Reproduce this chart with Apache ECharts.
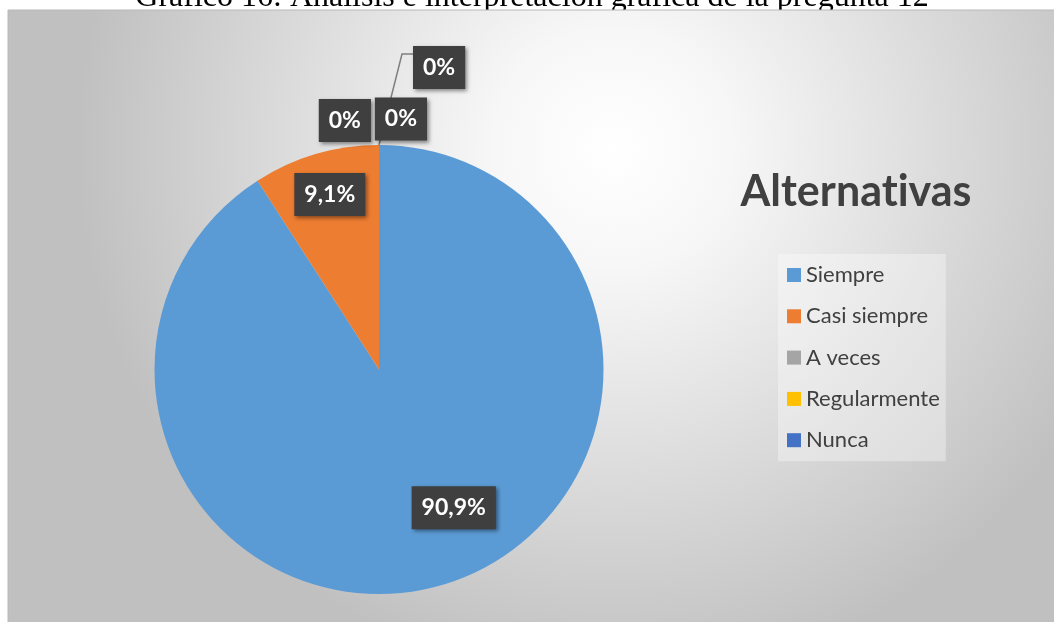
<!DOCTYPE html>
<html>
<head>
<meta charset="utf-8">
<script src="https://cdn.jsdelivr.net/npm/echarts@6/dist/echarts.min.js"></script>
<style>
html,body{margin:0;padding:0;background:#fff;}
#chart{width:1054px;height:622px;}
</style>
</head>
<body>
<div id="chart"></div>
<script>
// ---- data ----
const categories = ['Siempre', 'Casi siempre', 'A veces', 'Regularmente', 'Nunca'];
const values = [90.9, 9.1, 0, 0, 0];
const labelTexts = ['90,9%', '9,1%', '0%', '0%', '0%'];
const colors = ['#5B9BD5', '#ED7D31', '#A5A5A5', '#FFC000', '#4472C4'];
const chartTitle = 'Gráfico 16: Análisis e interpretación gráfica de la pregunta 12';
const legendTitle = 'Alternat\u200Civas';

// ---- layout (not data) ----
const CX = 379, CY = 369.5, R = 224.5;
// label placement: [fraction of radius, angle clockwise from top in degrees]
const LABEL_PLACE = [[0.70, 151.6], [0.81, -15.7], [1.12, -7.8], [1.12, 5], [1.449, 6.0]];
const LEADER_INDEX = 4;

function placeOf(i) {
  const pl = LABEL_PLACE[i];
  const a = pl[1] * Math.PI / 180;
  return [CX + pl[0] * R * Math.sin(a), CY - pl[0] * R * Math.cos(a)];
}
const leaderEnd = placeOf(LEADER_INDEX);

const chart = echarts.init(document.getElementById('chart'), null, {renderer: 'canvas'});

const labelBox = {
  show: true,
  color: '#ffffff',
  fontFamily: 'Lato',
  fontWeight: 'bold',
  fontSize: 23,
  backgroundColor: '#3f3f3f',
  padding: [10, 10],
  shadowColor: 'rgba(0,0,0,0.45)',
  shadowBlur: 4,
  shadowOffsetX: 2,
  shadowOffsetY: 2
};

const option = {
  animation: false,
  graphic: [
    {
      type: 'text', z: 0,
      style: {
        x: 532, y: -2, text: chartTitle,
        font: '32px "Liberation Serif"', fill: '#000',
        align: 'center', verticalAlign: 'middle'
      }
    },
    {
      type: 'rect', z: 1, z2: 0,
      shape: {x: 8, y: 10, width: 1060, height: 630},
      style: {
        stroke: '#b8b8b8', lineWidth: 1,
        fill: {
          type: 'radial', x: 0.57, y: 0.22, r: 0.85,
          colorStops: [
            {offset: 0, color: '#ffffff'},
            {offset: 0.22, color: '#f7f7f7'},
            {offset: 1, color: '#c0c0c0'}
          ]
        }
      }
    },
    {
      type: 'polyline', z: 1, z2: 5,
      shape: {points: [[CX, CY - R], [leaderEnd[0] - 11, leaderEnd[1] + 8], [leaderEnd[0], leaderEnd[1] + 8]]},
      style: {stroke: '#7f7f7f', lineWidth: 1.5, fill: null}
    }
  ],
  title: {
    text: legendTitle,
    left: 851, top: 166,
    textAlign: 'center',
    textStyle: {fontFamily: 'Lato', fontWeight: 'bold', fontSize: 43, color: '#404040'}
  },
  legend: {
    orient: 'vertical',
    left: 778, top: 254,
    padding: [10, 6, 10, 9],
    backgroundColor: 'rgba(255,255,255,0.35)',
    itemWidth: 14, itemHeight: 14,
    itemGap: 19.3,
    icon: 'rect',
    selectedMode: false,
    data: categories,
    textStyle: {fontFamily: 'Lato', fontSize: 22, color: '#404040', lineHeight: 22}
  },
  series: [{
    type: 'pie',
    z: 2,
    center: [CX, CY],
    radius: R,
    startAngle: 90,
    clockwise: true,
    avoidLabelOverlap: false,
    itemStyle: {borderWidth: 0},
    label: Object.assign({position: 'inside', formatter: p => labelTexts[p.dataIndex]}, labelBox),
    labelLine: {show: false},
    labelLayout: function (p) {
      const pt = placeOf(p.dataIndex);
      if (p.dataIndex === LEADER_INDEX) {
        return {x: pt[0], y: pt[1], align: 'left', verticalAlign: 'top'};
      }
      return {x: pt[0], y: pt[1], align: 'center', verticalAlign: 'middle'};
    },
    data: categories.map((c, i) => ({name: c, value: values[i], itemStyle: {color: colors[i]}}))
  }]
};
chart.setOption(option);
</script>
</body>
</html>
